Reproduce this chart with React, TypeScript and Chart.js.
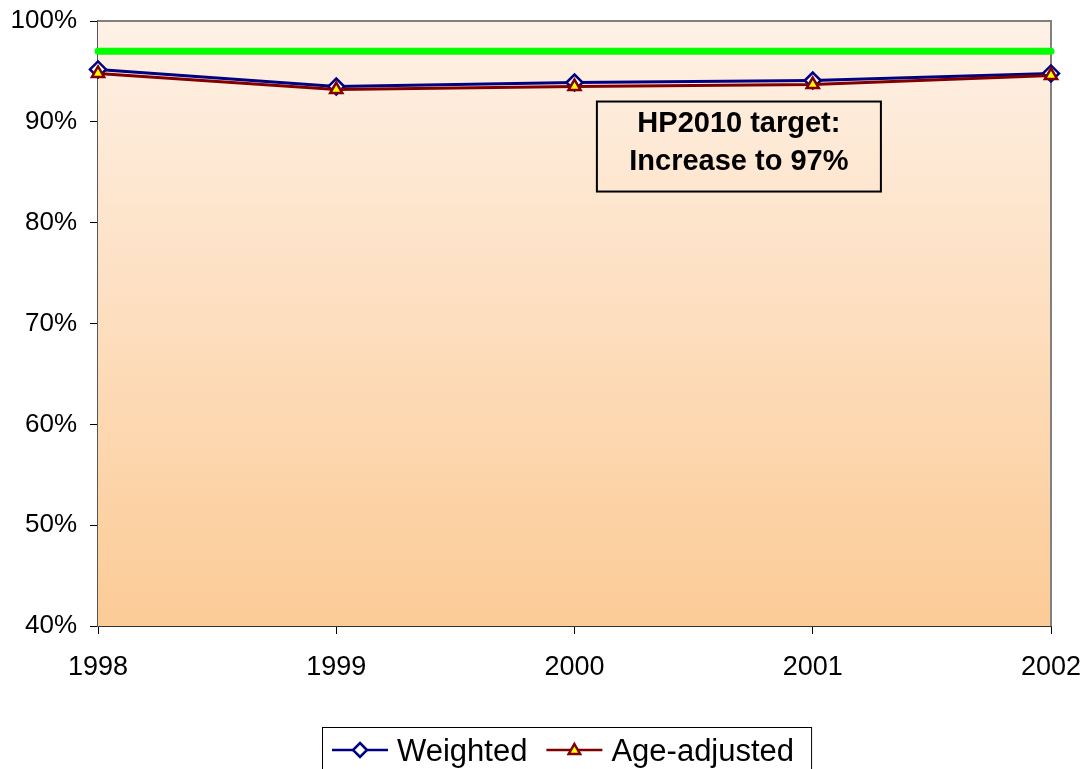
import React, { useEffect, useRef } from "react";
import { Chart, registerables } from "chart.js";

Chart.register(...registerables);

const years = ["1998", "1999", "2000", "2001", "2002"];
const weighted = [95.2, 93.5, 93.9, 94.1, 94.8];
const ageAdjusted = [94.8, 93.2, 93.5, 93.7, 94.6];
const target = [97, 97, 97, 97, 97];
const yTicks = [40, 50, 60, 70, 80, 90, 100];
const annotationLines = ["HP2010 target:", "Increase to 97%"];

const FONT = "'Liberation Sans', Arial, sans-serif";

const bgPlugin = {
  id: "bgPlugin",
  beforeDatasetsDraw(chart: any) {
    const { ctx, chartArea: a } = chart;
    ctx.save();
    const g = ctx.createLinearGradient(0, a.top, 0, a.bottom);
    g.addColorStop(0, "#FEF1E6");
    g.addColorStop(1, "#FCCB96");
    ctx.fillStyle = g;
    ctx.fillRect(a.left, a.top, a.right - a.left, a.bottom - a.top);
    ctx.strokeStyle = "#808080";
    ctx.lineWidth = 2;
    ctx.beginPath();
    ctx.moveTo(a.left, a.top);
    ctx.lineTo(a.right, a.top);
    ctx.lineTo(a.right, a.bottom);
    ctx.stroke();
    ctx.restore();
  },
};

const annotationPlugin = {
  id: "annotationPlugin",
  afterDatasetsDraw(chart: any) {
    const { ctx } = chart;
    const xs = chart.scales.x;
    const ys = chart.scales.y;
    const cx = xs.getPixelForValue(2.69);
    const cy = ys.getPixelForValue(87.55);
    const w = 284;
    const h = 90;
    ctx.save();
    ctx.strokeStyle = "#000";
    ctx.lineWidth = 2;
    ctx.strokeRect(cx - w / 2, cy - h / 2, w, h);
    ctx.fillStyle = "#000";
    ctx.font = `bold 29px ${FONT}`;
    ctx.textAlign = "center";
    ctx.textBaseline = "alphabetic";
    ctx.fillText(annotationLines[0], cx, cy - 15);
    ctx.fillText(annotationLines[1], cx, cy + 23);
    ctx.restore();
  },
};

function drawMarker(ctx: any, style: string, x: number, y: number, r: number, fill: string, stroke: string, lw: number) {
  ctx.save();
  ctx.fillStyle = fill;
  ctx.strokeStyle = stroke;
  ctx.lineWidth = lw;
  ctx.beginPath();
  if (style === "rectRot") {
    ctx.moveTo(x, y - r);
    ctx.lineTo(x + r, y);
    ctx.lineTo(x, y + r);
    ctx.lineTo(x - r, y);
  } else {
    ctx.moveTo(x, y - r);
    ctx.lineTo(x + r * 0.95, y + r * 0.65);
    ctx.lineTo(x - r * 0.95, y + r * 0.65);
  }
  ctx.closePath();
  ctx.fill();
  ctx.stroke();
  ctx.restore();
}

const legendPlugin = {
  id: "customLegend",
  afterDraw(chart: any) {
    const { ctx } = chart;
    const items = chart.data.datasets.filter((d: any) => d.showInLegend);
    ctx.save();
    ctx.font = `31px ${FONT}`;
    const lineLen = 56;
    const padL = 10;
    const gapText = 9;
    const gapItem = 19;
    const padR = 17;
    let total = padL;
    items.forEach((d: any, i: number) => {
      total += lineLen + gapText + ctx.measureText(d.label).width;
      if (i < items.length - 1) total += gapItem;
    });
    total += padR;
    const left = 322;
    const top = 727;
    const cy = 750;
    ctx.strokeStyle = "#000";
    ctx.lineWidth = 1;
    ctx.strokeRect(left + 0.5, top + 0.5, total, 60);
    let x = left + padL;
    items.forEach((d: any) => {
      ctx.strokeStyle = d.borderColor;
      ctx.lineWidth = 2.5;
      ctx.beginPath();
      ctx.moveTo(x, cy);
      ctx.lineTo(x + lineLen, cy);
      ctx.stroke();
      drawMarker(ctx, d.pointStyle, x + lineLen / 2, cy, d.pointStyle === "rectRot" ? 7 : 6, d.pointBackgroundColor, d.pointBorderColor, 2.5);
      x += lineLen + gapText;
      ctx.fillStyle = "#000";
      ctx.textAlign = "left";
      ctx.textBaseline = "alphabetic";
      ctx.fillText(d.label, x, 761);
      x += ctx.measureText(d.label).width + gapItem;
    });
    ctx.restore();
  },
};

export default function App() {
  const ref = useRef<HTMLCanvasElement>(null);
  useEffect(() => {
    if (!ref.current) return;
    const chart = new Chart(ref.current, {
      type: "line",
      data: {
        labels: years,
        datasets: [
          {
            label: "Weighted",
            data: weighted,
            borderColor: "#000080",
            borderWidth: 3,
            pointStyle: "rectRot",
            pointRadius: 8,
            pointBackgroundColor: "#FFFFFF",
            pointBorderColor: "#000080",
            pointBorderWidth: 2.5,
            tension: 0,
            order: 1,
            clip: false,
            showInLegend: true,
          } as any,
          {
            label: "Age-adjusted",
            data: ageAdjusted,
            borderColor: "#800000",
            borderWidth: 3,
            pointStyle: "triangle",
            pointRadius: 7,
            pointBackgroundColor: "#FFFF00",
            pointBorderColor: "#800000",
            pointBorderWidth: 2.5,
            tension: 0,
            order: 0,
            clip: false,
            showInLegend: true,
          } as any,
          {
            label: "Target",
            data: target,
            borderColor: "#00FF00",
            borderWidth: 7,
            borderCapStyle: "round",
            pointRadius: 0,
            order: 2,
            clip: false,
            showInLegend: false,
          } as any,
        ],
      },
      options: {
        responsive: false,
        animation: false,
        devicePixelRatio: 1,
        layout: { padding: { top: 21, right: 35, bottom: 0, left: 0 } },
        plugins: { legend: { display: false }, tooltip: { enabled: false } },
        scales: {
          x: {
            type: "category",
            offset: false,
            grid: { drawOnChartArea: false, drawTicks: true, tickLength: 8, color: "#000" },
            border: { display: true, color: "#333", width: 2 },
            ticks: { color: "#000", font: { family: FONT, size: 27 }, padding: 17, maxRotation: 0 },
            afterFit: (s: any) => {
              s.height = 769 - 626;
              s.paddingLeft = 0;
              s.paddingRight = 0;
            },
          },
          y: {
            min: 40,
            max: 100,
            afterBuildTicks: (s: any) => {
              s.ticks = yTicks.map((v) => ({ value: v }));
            },
            grid: { drawOnChartArea: false, drawTicks: true, tickLength: 8, color: "#000" },
            border: { display: true, color: "#555", width: 2 },
            ticks: {
              color: "#000",
              font: { family: FONT, size: 26 },
              padding: 13,
              callback: (v: any) => `${v}%`,
            },
            afterFit: (s: any) => {
              s.width = 98;
              s.paddingTop = 0;
              s.paddingBottom = 0;
            },
          },
        },
      },
      plugins: [bgPlugin, annotationPlugin, legendPlugin],
    });
    return () => chart.destroy();
  }, []);
  return (
    <div style={{ position: "fixed", left: 0, top: 0, width: 1086, height: 769, background: "#fff" }}>
      <canvas ref={ref} width={1086} height={769} style={{ display: "block" }} />
    </div>
  );
}
